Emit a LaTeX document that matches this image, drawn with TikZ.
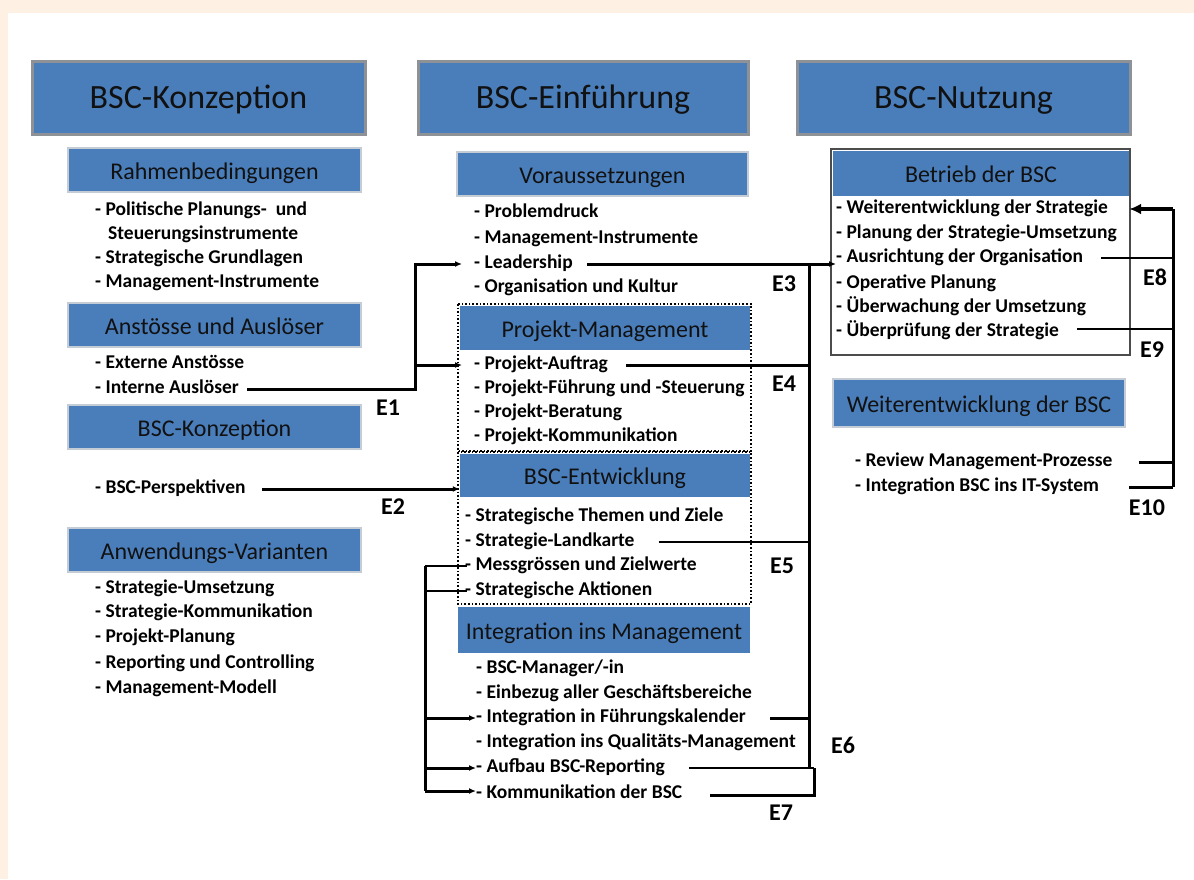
\documentclass[tikz,border=0pt]{standalone}
\usepackage{fontspec}
\setmainfont{Carlito}
\usetikzlibrary{arrows.meta}
\definecolor{peach}{HTML}{FEF1E3}
\definecolor{hblue}{HTML}{4A7EBB}
\definecolor{hgray}{HTML}{8E9296}
\definecolor{lgray}{HTML}{C4CCD6}
\definecolor{tdark}{HTML}{111111}
\begin{document}
\begin{tikzpicture}[x=1pt,y=-1pt,
  bighead/.style={draw=hgray,line width=3pt,fill=hblue,inner sep=0pt,text=tdark,text height=27pt,text depth=5pt,font=\fontsize{34}{40}\selectfont},
  subhead/.style={draw=lgray,line width=1.5pt,fill=hblue,inner sep=0pt,text=tdark,text height=23pt,text depth=4pt,font=\fontsize{24}{28}\selectfont},
  midhead/.style={fill=hblue,inner sep=0pt,text=tdark,text height=22pt,text depth=4pt,font=\fontsize{24}{28}\selectfont},
  item/.style={anchor=west,inner sep=0pt,text height=13pt,text depth=4pt,font=\bfseries\fontsize{19.5}{22}\selectfont},
  elabel/.style={inner sep=0pt,font=\bfseries\fontsize{24}{28}\selectfont},
  conn/.style={line width=3pt},
  thin/.style={line width=2pt},
  arr/.style={-{Latex[length=7pt,width=6pt]}},
  dotbox/.style={draw=black,line width=1.6pt,dotted}
]
\fill[peach] (0,0) rectangle (1194,879);
\fill[white] (8,13) rectangle (1194,879);
\useasboundingbox (0,0) rectangle (1194,879);

% big headings
\node[bighead,minimum width=333pt,minimum height=73pt] (hk) at (198.5,97.5) {BSC-Konzeption};
\node[bighead,minimum width=330pt,minimum height=73pt] (he) at (583,97.5) {BSC-Einführung};
\node[bighead,minimum width=333pt,minimum height=73pt] (hn) at (963.5,97.5) {BSC-Nutzung};

% left column
\node[subhead,minimum width=293pt,minimum height=44pt] (srb) at (214.5,170) {Rahmenbedingungen};
\node[subhead,minimum width=293pt,minimum height=44pt] (saa) at (214.5,325) {Anstösse und Auslöser};
\node[subhead,minimum width=293pt,minimum height=44pt] (sbk) at (214.5,427) {BSC-Konzeption};
\node[subhead,minimum width=293pt,minimum height=44pt] (sav) at (214.5,550) {Anwendungs-Varianten};

\node[item] (lpol) at (95,211) {- Politische Planungs-\ \ und};
\node[item] (lsteu) at (108,235) {Steuerungsinstrumente};
\node[item] (lstrat) at (95,259) {- Strategische Grundlagen};
\node[item] (lmgmt) at (95,283) {- Management-Instrumente};
\node[item] (lext) at (95,364) {- Externe Anstösse};
\node[item] (lint) at (95,389) {- Interne Auslöser};
\node[item] (lpersp) at (95,489) {- BSC-Perspektiven};
\node[item] (lsu) at (95,589) {- Strategie-Umsetzung};
\node[item] (lsk) at (95,613) {- Strategie-Kommunikation};
\node[item] (lpp) at (95,638) {- Projekt-Planung};
\node[item] (lrc) at (95,664) {- Reporting und Controlling};
\node[item] (lmm) at (95,689) {- Management-Modell};

% middle column
\node[subhead,minimum width=291pt,minimum height=44pt] (svo) at (602.5,174) {Voraussetzungen};
\node[item] (mprob) at (474,213) {- Problemdruck};
\node[item] (mmi) at (474,239) {- Management-Instrumente};
\node[item] (mlead) at (474,264) {- Leadership};
\node[item] (morg) at (474,288) {- Organisation und Kultur};

\node[midhead,minimum width=290pt,minimum height=44pt] (spm) at (605,328) {Projekt-Management};
\draw[dotbox] (458,304) rectangle (751,451);
\node[item] (mpa) at (474,365) {- Projekt-Auftrag};
\node[item] (mpf) at (474,389) {- Projekt-Führung und -Steuerung};
\node[item] (mpb) at (474,413) {- Projekt-Beratung};
\node[item] (mpk) at (474,437) {- Projekt-Kommunikation};

\node[midhead,minimum width=290pt,minimum height=43pt] (sbe) at (605,475.5) {BSC-Entwicklung};
\draw[dotbox] (458,452) rectangle (751,604);
\node[item] (mst) at (465,517) {- Strategische Themen und Ziele};
\node[item] (msl) at (465,542) {- Strategie-Landkarte};
\node[item] (mmz) at (465,566) {- Messgrössen und Zielwerte};
\node[item] (msa) at (465,591) {- Strategische Aktionen};

\node[midhead,minimum width=292pt,minimum height=46pt] (sim) at (604,630) {Integration ins Management};
\node[item] (mbm) at (476,669) {- BSC-Manager/-in};
\node[item] (meg) at (476,694) {- Einbezug aller Geschäftsbereiche};
\node[item] (mif) at (476,718) {- Integration in Führungskalender};
\node[item] (miq) at (476,743) {- Integration ins Qualitäts-Management};
\node[item] (mab) at (476,768) {- Aufbau BSC-Reporting};
\node[item] (mkb) at (476,794) {- Kommunikation der BSC};

% right column
\draw[draw=black!70,line width=1.5pt] (831,149) rectangle (1130,355);
\node[midhead,minimum width=296pt,minimum height=45pt] (sbb) at (981,173.5) {Betrieb der BSC};
\node[item] (rws) at (836,209) {- Weiterentwicklung der Strategie};
\node[item] (rps) at (836,234) {- Planung der Strategie-Umsetzung};
\node[item] (rao) at (836,258) {- Ausrichtung der Organisation};
\node[item] (rop) at (836,284) {- Operative Planung};
\node[item] (ruu) at (836,308) {- Überwachung der Umsetzung};
\node[item] (rus) at (836,332) {- Überprüfung der Strategie};

\node[subhead,minimum width=292pt,minimum height=48pt] (swb) at (979,403) {Weiterentwicklung der BSC};
\node[item] (rrm) at (855,462) {- Review Management-Prozesse};
\node[item] (rit) at (855,487) {- Integration BSC ins IT-System};

% junction coordinates
\coordinate (e1v) at (415,330);
\coordinate (rbus) at (809,500);
\coordinate (lbus) at (425,700);
\coordinate (e7v) at (814,780);
\coordinate (e8v) at (1173,350);

% E1
\draw[conn,arr] ([xshift=8pt]lint.east) -| (e1v) |- ([xshift=-12pt]mlead.west);
\draw[conn,arr] (e1v) |- ([xshift=-12pt]mpa.west);
% E2
\draw[conn,arr] ([xshift=16pt]lpersp.east) -- (lpersp.east -| spm.west);
% E3 / right bus
\draw[conn,arr] ([xshift=14pt]mlead.east) -- (mlead.east -| rao.west);
\draw[conn] (mlead.east -| rbus) -- (mab.east -| rbus);
\draw[conn] ([xshift=18pt]mpa.east) -- (mpa.east -| rbus);
\draw[thin] ([xshift=24pt]msl.east) -- (msl.east -| rbus);
\draw[conn] ([xshift=24pt]mif.east) -- (mif.east -| rbus);
\draw[thin] ([xshift=24pt]mab.east) -- (mab.east -| e7v);
\draw[conn] (mab.east -| e7v) -- ([yshift=-1pt]mkb.east -| e7v) -- ([xshift=28pt,yshift=-1pt]mkb.east);
% left bus
\draw[conn] (mmz.west -| lbus) -- ([yshift=3pt]mkb.west -| lbus);
\draw[thin] (mmz.west -| lbus) -- ([xshift=2pt]mmz.west);
\draw[thin] (msa.west -| lbus) -- ([xshift=2pt]msa.west);
\draw[conn,arr] (mif.west -| lbus) -- (mif.west);
\draw[conn,arr] (mab.west -| lbus) -- (mab.west);
\draw[conn,arr] ([yshift=3pt]mkb.west -| lbus) -- ([yshift=3pt]mkb.west);
% E8-E10
\draw[line width=3.5pt,-{Latex[length=12pt,width=11pt]}] (rws.east -| e8v) -- (rws.east -| sbb.east);
\draw[conn] (rws.east -| e8v) -- (rit.east -| e8v);
\draw[thin] ([xshift=18pt]rao.east) -- (rao.east -| e8v);
\draw[thin] ([xshift=18pt,yshift=3pt]rus.east) -- ([yshift=3pt]rus.east -| e8v);
\draw[conn] ([xshift=26pt]rrm.east) -- (rrm.east -| e8v);
\draw[conn] ([xshift=30pt]rit.east) -- (rit.east -| e8v);

% labels
\node[elabel] (le1) at (388,408) {E1};
\node[elabel] (le2) at (393,507) {E2};
\node[elabel] (le3) at (784,284) {E3};
\node[elabel] (le4) at (784,384) {E4};
\node[elabel] (le5) at (782,566) {E5};
\node[elabel] (le6) at (843,745) {E6};
\node[elabel] (le7) at (781,813) {E7};
\node[elabel] (le8) at (1155,277) {E8};
\node[elabel] (le9) at (1152,350) {E9};
\node[elabel] (le10) at (1147,508) {E10};
\end{tikzpicture}
\end{document}
